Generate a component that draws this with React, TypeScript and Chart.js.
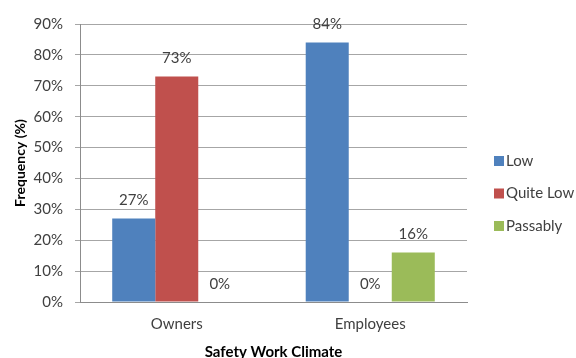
import React, { useEffect, useRef } from "react";
import { Chart, registerables } from "chart.js";

Chart.register(...registerables);

const categories = ["Owners", "Employees"];
const seriesNames = ["Low", "Quite Low", "Passably"];
const lowValues = [27, 84];
const quiteLowValues = [73, 0];
const passablyValues = [0, 16];
const seriesColors = ["#4F81BD", "#C0504D", "#9BBB59"];
const yTickMax = 90;
const yTickStep = 10;
const xTitle = "Safety Work Climate";
const yTitle = "Frequency (%)";

const FONT = "Lato, 'Open Sans', sans-serif";
const TEXT = "#404040";

const labelPlugin = {
  id: "valueLabels",
  afterDatasetsDraw(chart: any) {
    const ctx = chart.ctx;
    ctx.save();
    ctx.font = `15px ${FONT}`;
    ctx.fillStyle = TEXT;
    ctx.textAlign = "center";
    ctx.textBaseline = "middle";
    chart.data.datasets.forEach((ds: any, i: number) => {
      const meta = chart.getDatasetMeta(i);
      meta.data.forEach((el: any, j: number) => {
        ctx.fillText(`${ds.data[j]}%`, el.x, el.y - 18);
      });
    });
    ctx.restore();
  },
};

const legendPlugin = {
  id: "customLegend",
  afterDraw(chart: any) {
    const ctx = chart.ctx;
    ctx.save();
    ctx.font = `15px ${FONT}`;
    ctx.textAlign = "left";
    ctx.textBaseline = "middle";
    const x = 494;
    const y0 = 161;
    const gap = 32.5;
    chart.data.datasets.forEach((ds: any, i: number) => {
      const y = y0 + i * gap;
      ctx.fillStyle = ds.backgroundColor;
      ctx.fillRect(x, y - 5, 10, 10);
      ctx.fillStyle = TEXT;
      ctx.fillText(ds.label, x + 12, y);
    });
    ctx.restore();
  },
};

export default function App() {
  const ref = useRef<HTMLCanvasElement>(null);
  useEffect(() => {
    if (!ref.current) return;
    const chart = new Chart(ref.current, {
      type: "bar",
      data: {
        labels: categories,
        datasets: [lowValues, quiteLowValues, passablyValues].map((d, i) => ({
          label: seriesNames[i],
          data: d,
          backgroundColor: seriesColors[i],
          borderWidth: 0,
        })),
      },
      options: {
        animation: false,
        responsive: false,
        maintainAspectRatio: false,
        categoryPercentage: 0.667,
        barPercentage: 1,
        layout: { padding: { top: 24, right: 109, left: 0, bottom: 0 } },
        plugins: {
          legend: { display: false },
          tooltip: { enabled: false },
        },
        scales: {
          x: {
            grid: { display: false, drawTicks: false },
            border: { display: true, color: "#8c8c8c", width: 1 },
            ticks: { color: TEXT, font: { family: FONT, size: 15 }, padding: 13 },
            title: {
              display: true,
              text: xTitle,
              color: "#000",
              font: { family: FONT, size: 15, weight: "bold", lineHeight: 0.8 },
              padding: { top: 0, bottom: 0 },
            },
            afterFit: (s: any) => {
              s.height = 56;
            },
          },
          y: {
            min: 0,
            max: yTickMax,
            ticks: {
              stepSize: yTickStep,
              color: TEXT,
              font: { family: FONT, size: 15 },
              padding: 12,
              callback: (v: any) => `${v}%`,
            },
            grid: { color: "#a6a6a6", tickLength: 5, lineWidth: 1 },
            border: { display: true, color: "#8c8c8c", width: 1 },
            title: {
              display: true,
              text: yTitle,
              color: "#000",
              font: { family: FONT, size: 14, weight: "bold", lineHeight: 1 },
              padding: { top: 13, bottom: 0 },
            },
            afterFit: (s: any) => {
              s.width = 80;
            },
          },
        },
      },
      plugins: [labelPlugin, legendPlugin],
    });
    return () => chart.destroy();
  }, []);
  return (
    <div style={{ position: "absolute", left: 0, top: 0, width: 576, height: 358, background: "#fff" }}>
      <canvas ref={ref} width={576} height={358} />
    </div>
  );
}
